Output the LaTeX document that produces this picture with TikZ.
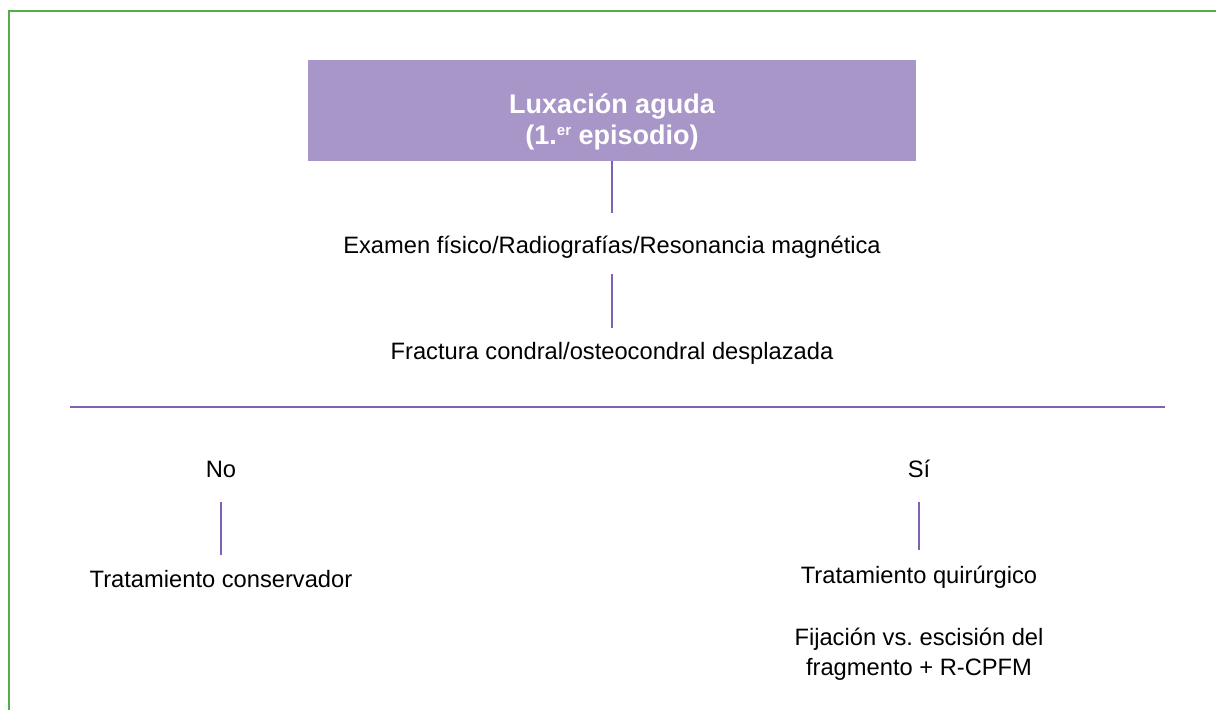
\documentclass[tikz,border=0pt]{standalone}
\usepackage{fontspec}
\setmainfont{Liberation Sans}
\frenchspacing
\definecolor{framegreen}{RGB}{80,175,70}
\definecolor{boxlilac}{RGB}{168,150,200}
\definecolor{linkviolet}{RGB}{128,98,180}
\newcommand{\supsmall}[1]{\raisebox{9pt}{\fontsize{15}{15}\selectfont #1}}
\tikzset{
	titlebox/.style={fill=boxlilac,minimum width=608pt,minimum height=101pt,inner sep=0},
	titletext/.style={text=white,font=\fontsize{27}{31}\selectfont\bfseries,align=center,inner sep=0},
	txt/.style={font=\fontsize{23.7}{30}\selectfont,inner sep=0,text height=17pt,text depth=5pt,anchor=base},
	link/.style={draw=linkviolet,line width=2pt}
}
\begin{document}
\begin{tikzpicture}[x=1pt,y=-1pt]
				\useasboundingbox (0,0) rectangle (1216,710);
				\draw[framegreen,line width=2.5pt] (9,710) -- (9,11) -- (1216,11);
				\node[titlebox] (title) at (612,110.5) {};
				\node[titletext] (titletxt) at ([yshift=-11pt]title.center) {Luxación aguda\\(1.\supsmall{er} episodio)};
				\node[txt] (exam) at (612,253) {Examen físico/Radiografías/Resonancia magnética};
				\node[txt] (fract) at (612,359) {Fractura condral/osteocondral desplazada};
				\node[txt] (no) at (221,477) {No};
				\node[txt] (si) at (919,477) {Sí};
				\node[txt] (cons) at (221,587) {Tratamiento conservador};
				\node[txt] (quir) at (919,583) {Tratamiento quirúrgico};
				\node[font=\fontsize{23.7}{30}\selectfont,align=center,inner sep=0] (fija) at (919,654) {Fijación vs. escisión del\\fragmento + R-CPFM};
				\coordinate (divl) at (70,407);
				\coordinate (divr) at (1165,407);
				\draw[link,shorten >=23pt] (title.south) -- (exam.north);
				\draw[link,shorten <=16pt,shorten >=14pt] (exam.south) -- (fract.north);
				\draw[link] (divl) -- (divr);
				\draw[link,shorten <=20pt,shorten >=15pt] (no.south) -- (cons.north);
				\draw[link,shorten <=20pt,shorten >=16pt] (si.south) -- (quir.north);
\end{tikzpicture}
\end{document}
